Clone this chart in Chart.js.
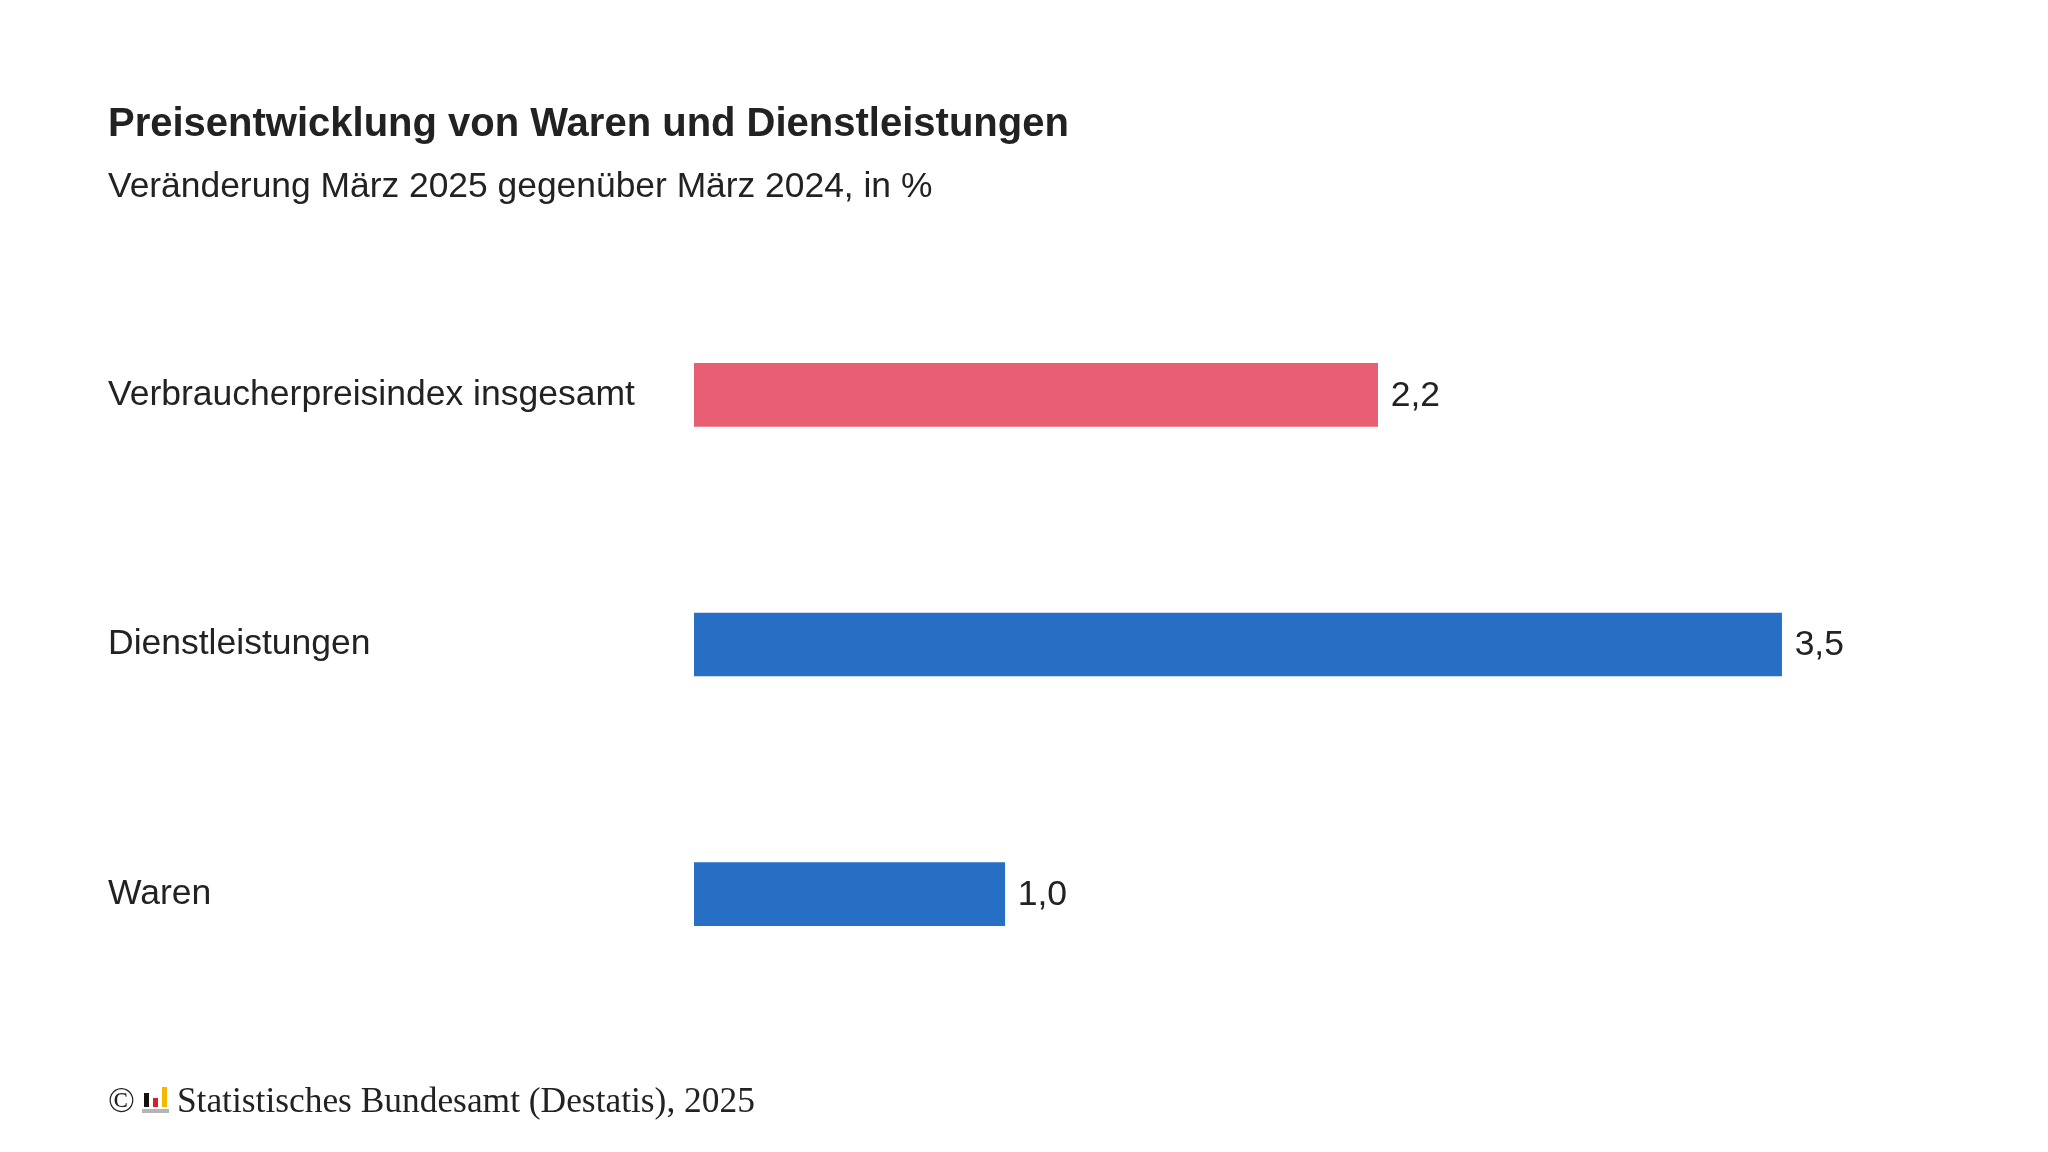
<!DOCTYPE html>
<html>
<head>
<meta charset="utf-8">
<script src="https://cdn.jsdelivr.net/npm/chart.js@4.4.1/dist/chart.umd.min.js"></script>
<style>
  html,body{margin:0;padding:0;background:#fff;}
  #wrap{position:relative;width:2048px;height:1152px;overflow:hidden;}
  canvas{position:absolute;left:0;top:0;}
  .t{position:absolute;left:108px;color:#222;font-family:"Liberation Sans",Arial,sans-serif;white-space:nowrap;}
  #title{top:100px;font-size:40px;font-weight:bold;}
  #sub{top:165px;font-size:35.4px;}
  #foot{top:1079px;font-family:"Liberation Serif","Times New Roman",serif;font-size:35.4px;display:flex;align-items:center;}
  #icon{position:relative;width:28px;height:26px;margin:0 8px 0 6px;}
  #icon div{position:absolute;}
</style>
</head>
<body>
<div id="wrap">
  <canvas id="c" width="2048" height="1152"></canvas>
  <div class="t" id="title">Preisentwicklung von Waren und Dienstleistungen</div>
  <div class="t" id="sub">Veränderung März 2025 gegenüber März 2024, in %</div>
  <div class="t" id="foot"><span>©</span><span id="icon">
    <div style="left:3px;top:6px;width:5px;height:14px;background:#111;"></div>
    <div style="left:12px;top:11px;width:5px;height:9px;background:#d81f2a;"></div>
    <div style="left:21px;top:0px;width:5px;height:20px;background:#f5b800;"></div>
    <div style="left:1px;top:22px;width:27px;height:4px;background:#b5b5b5;"></div>
  </span><span>Statistisches Bundesamt (Destatis), 2025</span></div>
</div>
<script>
const categories = ["Verbraucherpreisindex insgesamt", "Dienstleistungen", "Waren"];
const values = [2.2, 3.5, 1.0];
const barColors = ["#E85E72", "#266FC4", "#266FC4"];

const valueLabels = {
  id: 'valueLabels',
  afterDatasetsDraw(chart) {
    const ctx = chart.ctx;
    const meta = chart.getDatasetMeta(0);
    ctx.save();
    ctx.font = '35.5px "Liberation Sans", Arial, sans-serif';
    ctx.fillStyle = '#222';
    ctx.textAlign = 'left';
    ctx.textBaseline = 'middle';
    meta.data.forEach((bar, i) => {
      const txt = values[i].toFixed(1).replace('.', ',');
      ctx.fillText(txt, bar.x + 13, bar.y + 1);
    });
    ctx.restore();
  }
};

new Chart(document.getElementById('c'), {
  type: 'bar',
  data: {
    labels: categories,
    datasets: [{
      data: values,
      backgroundColor: barColors,
      borderWidth: 0,
      barThickness: 63
    }]
  },
  options: {
    indexAxis: 'y',
    responsive: false,
    animation: false,
    devicePixelRatio: 1,
    layout: { padding: { left: 108, right: 111, top: 270, bottom: 133 } },
    plugins: { legend: { display: false }, tooltip: { enabled: false } },
    scales: {
      x: { display: false, min: 0, max: 4 },
      y: {
        grid: { display: false },
        border: { display: false },
        ticks: {
          crossAlign: 'far',
          color: '#222',
          font: { family: '"Liberation Sans", Arial, sans-serif', size: 35.5 }
        },
        afterFit(scale) { scale.width = 586; }
      }
    }
  },
  plugins: [valueLabels]
});
</script>
</body>
</html>
